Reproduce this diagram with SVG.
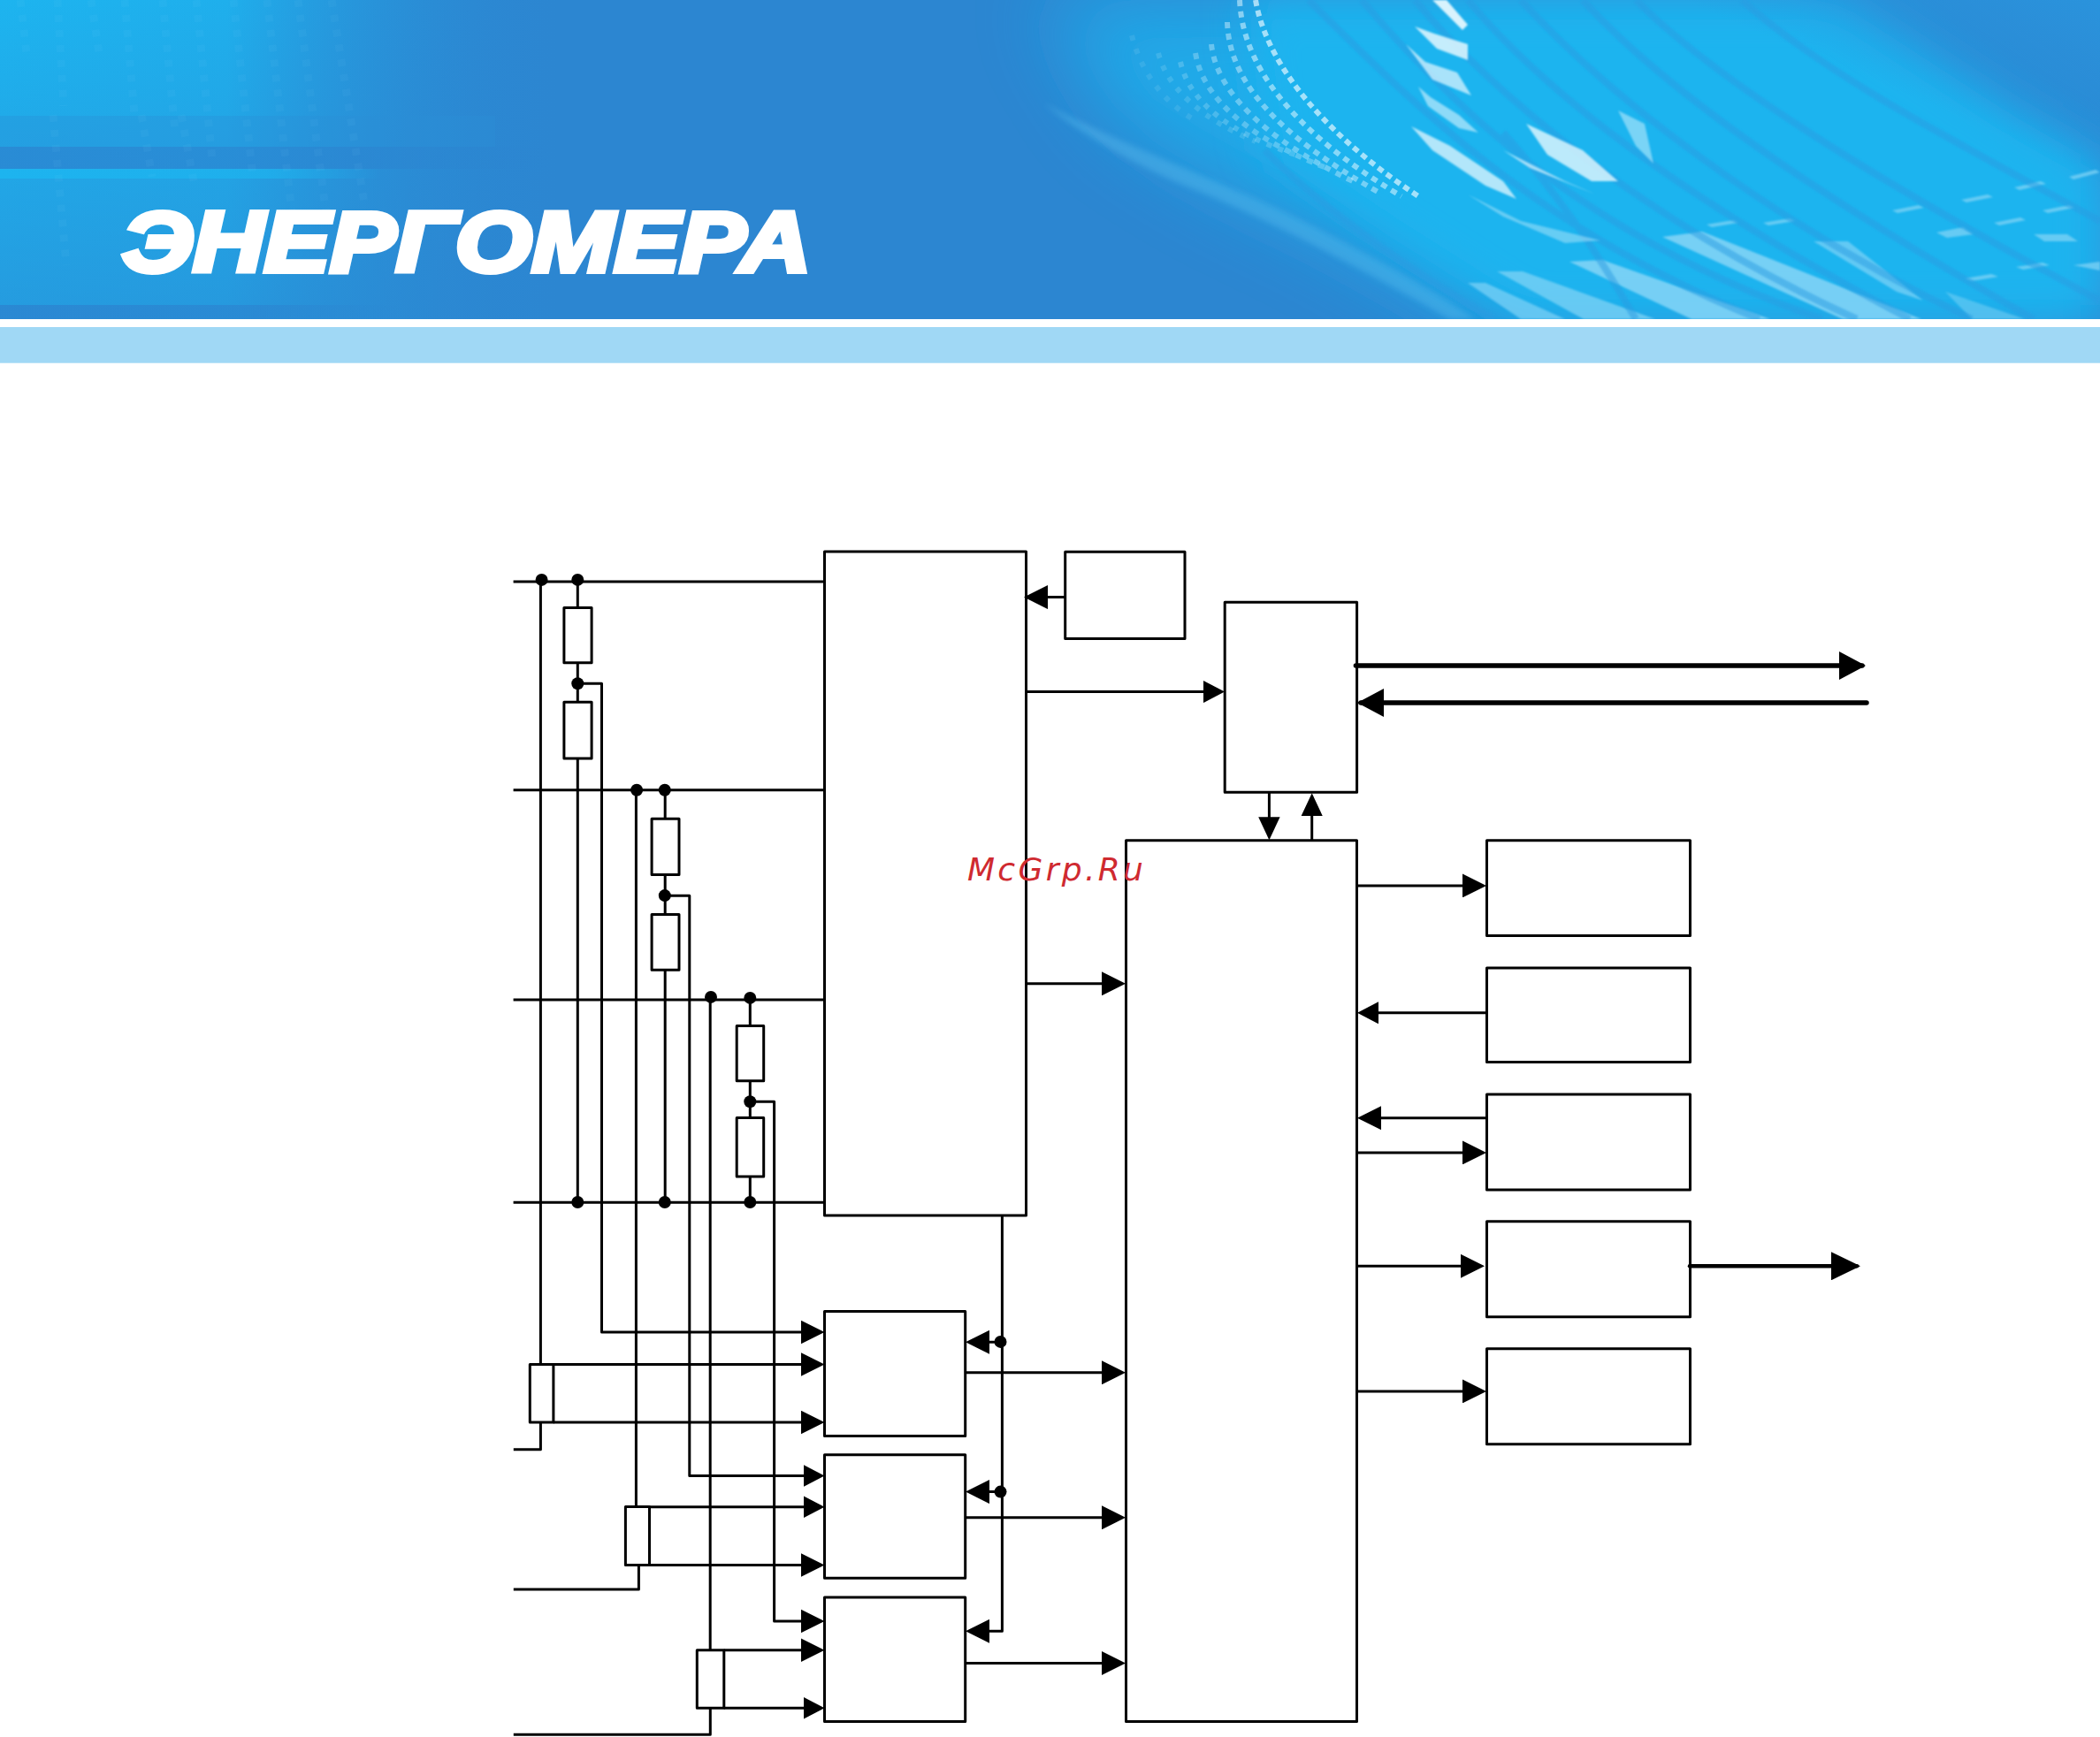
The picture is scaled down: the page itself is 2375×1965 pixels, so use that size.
<svg xmlns="http://www.w3.org/2000/svg" width="2375" height="1965" viewBox="0 0 2375 1965">
<style>
.n{fill:#fff;stroke:#000;stroke-width:3;stroke-linejoin:round}
.w{fill:none;stroke:#000;stroke-width:3;stroke-linejoin:round}
.t{fill:none;stroke:#000;stroke-width:5.5;stroke-linecap:round}
.d{fill:#000}
.bin{fill:none;stroke:#8fe0ff;stroke-width:9;stroke-dasharray:8 9;opacity:.055}
.dot{fill:none;stroke:#dff5ff;stroke-width:6}
.str{fill:none;stroke:#2a9ce2;stroke-width:8;opacity:.5}
.hi{fill:#d8f3fd}
</style>
<defs>
<linearGradient id="lg" x1="0" y1="0" x2="1" y2="0"><stop offset="0" stop-color="#1db4ef"/><stop offset=".4" stop-color="#1fafec"/><stop offset="1" stop-color="#2c86d1" stop-opacity="0"/></linearGradient>
<linearGradient id="lv" x1="0" y1="0" x2="0" y2="1"><stop offset="0" stop-color="#2c86d1" stop-opacity="0"/><stop offset="1" stop-color="#2c86d1" stop-opacity=".55"/></linearGradient>
<linearGradient id="fade" x1="0" y1="0" x2="1" y2="0"><stop offset="0" stop-color="#2c82cf" stop-opacity=".75"/><stop offset=".65" stop-color="#2c82cf" stop-opacity=".6"/><stop offset="1" stop-color="#2c82cf" stop-opacity="0"/></linearGradient>
<linearGradient id="fade2" x1="0" y1="0" x2="1" y2="0"><stop offset="0" stop-color="#1db4ef"/><stop offset=".7" stop-color="#1db4ef" stop-opacity=".7"/><stop offset="1" stop-color="#1db4ef" stop-opacity="0"/></linearGradient>
<linearGradient id="tr" x1="0" y1="1" x2="1" y2="0"><stop offset=".5" stop-color="#2a93dc" stop-opacity="0"/><stop offset="1" stop-color="#2a93dc"/></linearGradient>
<filter id="b50" x="-30%" y="-60%" width="160%" height="220%"><feGaussianBlur stdDeviation="45"/></filter>
<filter id="b30" x="-20%" y="-40%" width="140%" height="180%"><feGaussianBlur stdDeviation="24"/></filter>
<filter id="b3" x="-10%" y="-20%" width="120%" height="140%"><feGaussianBlur stdDeviation="3"/></filter>
<filter id="b1" x="-10%" y="-10%" width="120%" height="120%"><feGaussianBlur stdDeviation="1.2"/></filter>
<clipPath id="bc"><rect width="2375" height="361"/></clipPath>
<marker id="a26" markerUnits="userSpaceOnUse" markerWidth="27" markerHeight="27" refX="23" refY="13.500" orient="auto"><path d="M0 0L27 13.500L0 27z"/></marker>
<marker id="a23" markerUnits="userSpaceOnUse" markerWidth="24" markerHeight="25" refX="20" refY="12.500" orient="auto"><path d="M0 0L24 12.500L0 25z"/></marker>
<marker id="v" markerUnits="userSpaceOnUse" markerWidth="26" markerHeight="25" refX="22" refY="12.500" orient="auto"><path d="M0 .3L26 12.500L0 24.700z"/></marker>
<marker id="t30" markerUnits="userSpaceOnUse" markerWidth="30" markerHeight="32" refX="26" refY="16" orient="auto"><path d="M0 0L30 16L0 32z"/></marker>
<marker id="t33" markerUnits="userSpaceOnUse" markerWidth="33" markerHeight="32" refX="29" refY="16" orient="auto"><path d="M0 0L33 16L0 32z"/></marker>
</defs>

<g id="banner">
<rect width="2375" height="361" fill="#2c86d1"/>
<g clip-path="url(#bc)">
<rect width="640" height="361" fill="url(#lg)"/>
<rect width="640" height="361" fill="url(#lv)"/>
<rect x="0" y="131" width="560" height="35" fill="#2c8fd8" opacity=".35"/>
<rect x="0" y="166" width="620" height="25" fill="url(#fade)"/>
<rect x="0" y="191" width="430" height="11" fill="url(#fade2)"/>
<rect x="0" y="345" width="450" height="16" fill="url(#fade)"/>
<path class="bin" d="M23 0L30 60M65 0L72 120M103 0L112 60M141 0L152 130M184 0L198 150M222 0L240 180M264 0L286 200M302 0L330 240M337 0L370 250M375 0L412 230M60 130L75 300M160 130L172 200M205 130L220 210"/>
<path d="M1180 0H2075L2279 133L2375 187V361H1669L1506 267L1368 200L1262 133z" fill="#1db4ef" filter="url(#b50)" opacity=".8"/>
<path d="M1410 0H2075L2279 133L2375 187V361H1720L1560 260L1430 170z" fill="#1db4ef" filter="url(#b30)"/>
<rect x="1900" y="0" width="475" height="200" fill="url(#tr)"/>
<path d="M1181 117C1290 175 1400 210 1506 267C1570 300 1630 335 1669 361L1640 361C1560 315 1430 245 1340 210C1280 185 1220 150 1181 117z" fill="#5cbdee" opacity=".4" filter="url(#b3)"/>
<g filter="url(#b1)" fill="#7fd3f6">
<path d="M1660 320L1680 320L1770 361H1720z" opacity=".7"/>
<path d="M1693 307L1722 307L1872 361H1791z" opacity=".75"/>
<path d="M1775 296L1812 294L2002 361H1913z" opacity=".9"/>
<path d="M1880 268L1925 262L2173 361H2084z" opacity=".9"/>
<path d="M2051 273L2090 273L2175 340L2145 330z" opacity=".7"/>
<path d="M2200 330L2290 361H2230z" opacity=".5"/>
<path d="M2140 238l30-6l6 3l-30 6zM2218 226l30-6l6 3l-30 6zM2278 212l30-7l6 3l-30 7zM2340 200l30-8l5 3l-30 8zM2310 238l30-6l6 3l-30 6zM2255 252l30-6l6 3l-30 6zM2190 263l30-6l12 8l-30 4zM1994 252l30-5l6 3l-30 5zM1930 254l30-5l6 3l-30 5zM2222 315l30-5l8 3l-30 5zM2280 302l30-5l8 3l-30 5zM2345 300l30-4v10zM2300 265l38 0l12 8l-38 0z" opacity=".75"/>
</g>
<path d="M1480 0C1600 120 1740 260 1990 361M1540 0C1650 130 1800 270 2060 361M1600 0C1700 120 1880 260 2100 361M1660 0C1760 120 1930 240 2160 361M1720 0C1820 110 2000 250 2230 361M1790 0C1890 110 2070 230 2300 361M1850 0C1950 100 2150 220 2375 340M1970 0C2070 90 2230 170 2375 250M1700 150C1780 240 1820 310 1850 361M1430 170C1500 240 1600 310 1690 361" class="str" filter="url(#b1)"/>
<path class="dot" stroke-dasharray="7 5" opacity=".7" d="M1420 0C1430 60 1480 140 1604 222"/>
<path class="dot" stroke-dasharray="7 6" opacity=".55" d="M1402 0C1405 70 1455 145 1585 222"/>
<path class="dot" stroke-dasharray="7 6" opacity=".45" d="M1388 25C1390 90 1440 150 1560 218"/>
<path class="dot" stroke-dasharray="7 7" opacity=".38" d="M1370 50C1375 100 1425 155 1530 205"/>
<path class="dot" stroke-dasharray="7 7" opacity=".3" d="M1352 60C1360 110 1410 155 1500 190"/>
<path class="dot" stroke-dasharray="6 8" opacity=".22" d="M1335 70C1345 115 1390 150 1465 175"/>
<path class="dot" stroke-dasharray="6 9" opacity=".15" d="M1310 60C1320 100 1360 135 1420 160"/>
<path class="dot" stroke-dasharray="6 10" opacity=".1" d="M1280 40C1290 80 1315 115 1350 135"/>
<g class="hi" filter="url(#b1)">
<path d="M1620 0H1636L1660 28L1654 34z"/>
<path d="M1600 30L1622 38L1660 50L1660 68L1625 55z" opacity=".9"/>
<path d="M1590 50L1612 70L1648 82L1664 108L1620 90z" opacity=".75"/>
<path d="M1604 98L1618 110L1650 130L1672 150L1650 145L1615 120z" opacity=".6"/>
<path d="M1596 143L1640 165L1700 205L1715 225L1680 210L1620 170z" opacity=".8"/>
<path d="M1670 150L1730 190L1805 220L1770 205L1700 170z" opacity=".7"/>
<path d="M1726 140L1790 170L1830 205L1800 205L1750 175z" opacity=".85"/>
<path d="M1830 125L1860 140L1870 185L1850 165z" opacity=".5"/>
<path d="M1660 220L1720 250L1810 272L1770 275L1700 245z" opacity=".4"/>
</g>
</g>
<rect y="370" width="2375" height="40.700" fill="#a0d8f5"/>
</g>

<text id="logo" x="138" y="307" font-family="'Liberation Sans',Arial,sans-serif" font-weight="700" font-style="italic" font-size="97" textLength="779" lengthAdjust="spacingAndGlyphs" fill="#fff" stroke="#fff" stroke-width="6" stroke-linejoin="miter">ЭНЕРГОМЕРА</text>

<g transform="translate(0,-.7)">
<g id="nodes">
<g id="adc-main"><rect class="n" x="932.500" y="624.800" width="228" height="751"/></g>
<g id="clock"><rect class="n" x="1204.700" y="625" width="135.300" height="98.300"/></g>
<g id="interface"><rect class="n" x="1385.200" y="682" width="149.400" height="215"/></g>
<g id="mcu"><rect class="n" x="1273.500" y="951.500" width="261" height="996.700"/></g>
<g id="out-1"><rect class="n" x="1681.500" y="951.500" width="230" height="107.700"/></g>
<g id="out-2"><rect class="n" x="1681.500" y="1095.600" width="230" height="106.600"/></g>
<g id="out-3"><rect class="n" x="1681.500" y="1238.600" width="230" height="108"/></g>
<g id="out-4"><rect class="n" x="1681.500" y="1382.500" width="230" height="108"/></g>
<g id="out-5"><rect class="n" x="1681.500" y="1526.400" width="230" height="108"/></g>
<g id="adc-1"><rect class="n" x="932.500" y="1484.300" width="159.200" height="140.900"/></g>
<g id="adc-2"><rect class="n" x="932.500" y="1646.500" width="159.200" height="139.500"/></g>
<g id="adc-3"><rect class="n" x="932.500" y="1807.600" width="159.200" height="140.500"/></g>
<g id="r1a"><rect class="n" x="637.900" y="688.300" width="31.200" height="62.200"/></g>
<g id="r1b"><rect class="n" x="637.900" y="794.900" width="31.200" height="63.800"/></g>
<g id="r2a"><rect class="n" x="737.100" y="927" width="30.900" height="63.300"/></g>
<g id="r2b"><rect class="n" x="737.100" y="1035.200" width="30.900" height="62.800"/></g>
<g id="r3a"><rect class="n" x="833.200" y="1161.200" width="30.500" height="62.300"/></g>
<g id="r3b"><rect class="n" x="833.200" y="1265.300" width="30.500" height="66.300"/></g>
<g id="ct1"><rect class="n" x="599.300" y="1544.100" width="26.600" height="65.600"/></g>
<g id="ct2"><rect class="n" x="707.400" y="1705.200" width="27.100" height="66"/></g>
<g id="ct3"><rect class="n" x="788.300" y="1867.400" width="30.500" height="65.600"/></g>
</g>

<g id="connectors">
<path class="w" d="M580.600 658.700H932.500M580.600 894.400H932.500M580.600 1131.600H932.500M580.600 1361H932.500"/>
<path class="w" d="M611.400 657V1544M653.300 657V688M653.300 750V795M653.300 859V1361M719.400 894V1705M752.200 894V927M752.200 990V1035M752.200 1098V1361M803.200 1129V1867M848.300 1130V1161M848.300 1223V1265M848.300 1332V1361"/>
<path class="w" d="M580.800 1640.400H611.400V1609.700M580.800 1798.600H722.400V1771.200M580.800 1963H803.300V1933"/>
<path class="w" marker-end="url(#a26)" d="M653.300 774H680.500V1507.700H928.500"/>
<path class="w" marker-end="url(#a23)" d="M752 1014H779.800V1670.300H928.500"/>
<path class="w" marker-end="url(#a26)" d="M848.300 1247H875.600V1834.600H928.500"/>
<path class="w" marker-end="url(#a26)" d="M625.900 1544.100H928.500"/>
<path class="w" marker-end="url(#a26)" d="M625.900 1609.700H928.500"/>
<path class="w" marker-end="url(#a23)" d="M734.500 1705.400H928.500"/>
<path class="w" marker-end="url(#a26)" d="M734.500 1771.200H928.500"/>
<path class="w" marker-end="url(#a26)" d="M818.800 1867.400H928.500"/>
<path class="w" marker-end="url(#a23)" d="M818.800 1933H928.500"/>
<path class="w" marker-end="url(#a26)" d="M1133.400 1376V1846H1096"/>
<path class="w" marker-end="url(#a26)" d="M1133 1519H1096"/>
<path class="w" marker-end="url(#a26)" d="M1133 1688.300H1096"/>
<path class="w" marker-end="url(#a26)" d="M1091.700 1553.500H1269"/>
<path class="w" marker-end="url(#a26)" d="M1091.700 1717.500H1269"/>
<path class="w" marker-end="url(#a26)" d="M1091.700 1882.200H1269"/>
<path class="w" marker-end="url(#a26)" d="M1160.500 1113.500H1269"/>
<path class="w" marker-end="url(#a26)" d="M1204.700 676.300H1162"/>
<path class="w" marker-end="url(#a23)" d="M1160.500 783.300H1381"/>
<path class="w" marker-end="url(#v)" d="M1435.400 897V947"/>
<path class="w" marker-end="url(#v)" d="M1483.700 951.500V902"/>
<path class="t" marker-end="url(#t30)" d="M1533.400 753.700H2106"/>
<path class="t" marker-end="url(#t30)" d="M2111 795.700H1539"/>
<path class="w" marker-end="url(#a26)" d="M1534.500 1002.600H1677"/>
<path class="w" marker-end="url(#a23)" d="M1680 1146.500H1539"/>
<path class="w" marker-end="url(#a26)" d="M1681.500 1265.400H1539"/>
<path class="w" marker-end="url(#a26)" d="M1534.500 1304.600H1677"/>
<path class="w" marker-end="url(#a26)" d="M1534.500 1433H1675"/>
<path class="w" marker-end="url(#a26)" d="M1534.500 1574.600H1677"/>
<path class="t" style="stroke-width:4.500" marker-end="url(#t33)" d="M1911 1433H2100"/>
<g class="d">
<circle cx="612.600" cy="656.600" r="7"/><circle cx="653.300" cy="656.600" r="7"/><circle cx="653.300" cy="774" r="7"/>
<circle cx="720.100" cy="894.400" r="7"/><circle cx="751.800" cy="894.400" r="7"/><circle cx="751.800" cy="1013.800" r="7"/>
<circle cx="804" cy="1128.600" r="7"/><circle cx="848.300" cy="1129.600" r="7"/><circle cx="848.300" cy="1247" r="7"/>
<circle cx="653.300" cy="1360.700" r="7"/><circle cx="751.800" cy="1360.700" r="7"/><circle cx="848.300" cy="1360.700" r="7"/>
<circle cx="1131.500" cy="1518.600" r="7"/><circle cx="1131.500" cy="1688.300" r="7"/>
</g>
</g>
</g>

<text id="watermark" x="1094" y="996" font-family="'DejaVu Sans',sans-serif" font-style="oblique" font-size="36" letter-spacing="3.300" fill="#cf2a30">McGrp.Ru</text>
</svg>
